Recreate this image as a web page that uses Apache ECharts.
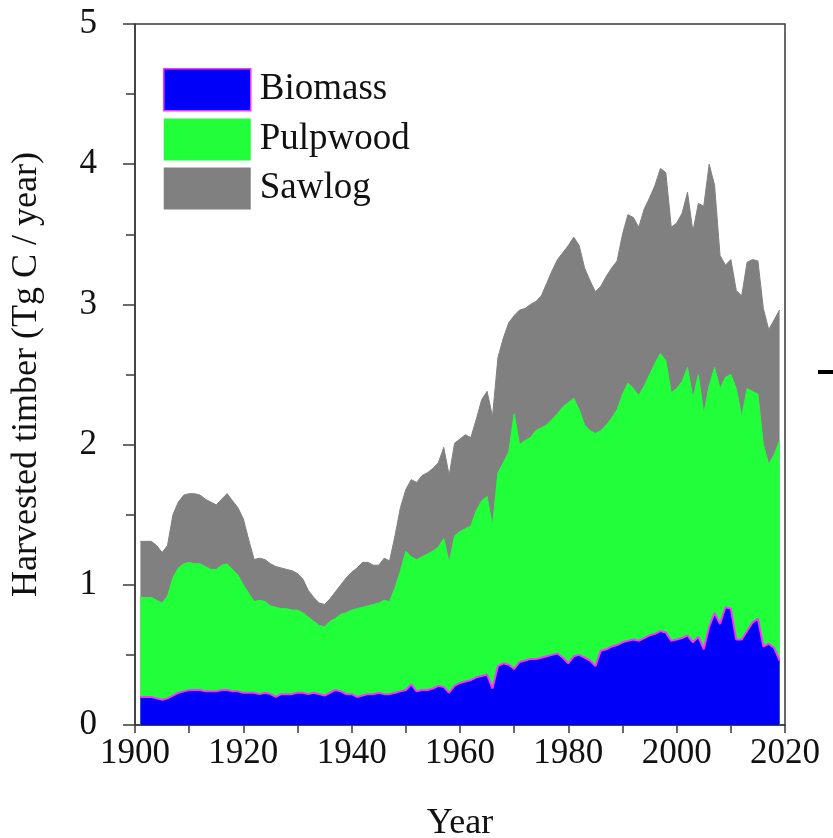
<!DOCTYPE html>
<html>
<head>
<meta charset="utf-8">
<script src="https://cdn.jsdelivr.net/npm/echarts@6/dist/echarts.min.js"></script>
<style>
  html, body { margin: 0; padding: 0; background: #ffffff; }
  #chart { width: 833px; height: 838px; }
</style>
</head>
<body>
<div id="chart"></div>
<script>
// Annual harvested timber carbon by product class, 1901-2019 (Tg C / year)
const firstYear = 1901;

const biomass = [
  0.20, 0.20, 0.20, 0.19, 0.18, 0.19, 0.21, 0.23, 0.24, 0.25,
  0.25, 0.25, 0.24, 0.24, 0.24, 0.25, 0.25, 0.24, 0.24, 0.23,
  0.23, 0.23, 0.22, 0.23, 0.22, 0.20, 0.22, 0.22, 0.22, 0.23,
  0.23, 0.22, 0.23, 0.22, 0.21, 0.23, 0.25, 0.24, 0.22, 0.22,
  0.20, 0.21, 0.22, 0.22, 0.23, 0.22, 0.22, 0.23, 0.24, 0.25,
  0.29, 0.24, 0.25, 0.25, 0.26, 0.28, 0.27, 0.23, 0.28, 0.30,
  0.31, 0.32, 0.34, 0.35, 0.36, 0.26, 0.42, 0.44, 0.43, 0.40,
  0.45, 0.46, 0.47, 0.47, 0.48, 0.49, 0.50, 0.51, 0.48, 0.44,
  0.49, 0.50, 0.48, 0.46, 0.42, 0.53, 0.54, 0.56, 0.57, 0.59,
  0.60, 0.61, 0.60, 0.62, 0.64, 0.65, 0.67, 0.66, 0.60, 0.61,
  0.62, 0.64, 0.59, 0.63, 0.54, 0.70, 0.80, 0.72, 0.84, 0.83,
  0.61, 0.61, 0.67, 0.73, 0.76, 0.56, 0.58, 0.55, 0.46
];

const pulpwood = [
  0.71, 0.71, 0.71, 0.70, 0.69, 0.73, 0.84, 0.89, 0.91, 0.91,
  0.90, 0.90, 0.89, 0.87, 0.87, 0.89, 0.90, 0.87, 0.83, 0.77,
  0.71, 0.65, 0.67, 0.65, 0.63, 0.64, 0.61, 0.61, 0.60, 0.59,
  0.57, 0.55, 0.51, 0.49, 0.49, 0.51, 0.51, 0.55, 0.58, 0.60,
  0.63, 0.63, 0.63, 0.64, 0.64, 0.67, 0.66, 0.75, 0.86, 0.99,
  0.91, 0.94, 0.95, 0.97, 0.98, 0.99, 1.06, 0.93, 1.07, 1.08,
  1.09, 1.10, 1.19, 1.25, 1.27, 1.16, 1.38, 1.43, 1.52, 1.82,
  1.55, 1.57, 1.58, 1.63, 1.64, 1.65, 1.68, 1.71, 1.79, 1.86,
  1.84, 1.75, 1.66, 1.64, 1.66, 1.57, 1.60, 1.63, 1.68, 1.77,
  1.84, 1.79, 1.75, 1.80, 1.86, 1.93, 1.98, 1.94, 1.77, 1.79,
  1.83, 1.91, 1.74, 1.87, 1.68, 1.72, 1.75, 1.68, 1.64, 1.67,
  1.79, 1.59, 1.73, 1.65, 1.60, 1.44, 1.28, 1.38, 1.57
];

const sawlog = [
  0.40, 0.40, 0.40, 0.39, 0.36, 0.36, 0.45, 0.47, 0.49, 0.49,
  0.50, 0.49, 0.48, 0.48, 0.46, 0.47, 0.50, 0.49, 0.48, 0.47,
  0.38, 0.30, 0.30, 0.30, 0.30, 0.29, 0.29, 0.28, 0.28, 0.26,
  0.24, 0.19, 0.17, 0.16, 0.16, 0.16, 0.19, 0.21, 0.25, 0.27,
  0.29, 0.32, 0.31, 0.28, 0.27, 0.30, 0.29, 0.37, 0.45, 0.44,
  0.55, 0.55, 0.58, 0.58, 0.59, 0.60, 0.65, 0.62, 0.66, 0.66,
  0.67, 0.63, 0.65, 0.72, 0.75, 0.78, 0.82, 0.89, 0.92, 0.70,
  0.96, 0.94, 0.95, 0.92, 0.94, 1.01, 1.06, 1.10, 1.10, 1.12,
  1.15, 1.17, 1.12, 1.07, 1.01, 1.03, 1.06, 1.07, 1.06, 1.14,
  1.20, 1.22, 1.20, 1.26, 1.26, 1.27, 1.32, 1.34, 1.18, 1.18,
  1.20, 1.25, 1.19, 1.22, 1.48, 1.58, 1.30, 0.95, 0.80, 0.82,
  0.70, 0.86, 0.90, 0.94, 0.95, 0.97, 0.96, 0.96, 0.93
];

const seriesNames = ['Biomass', 'Pulpwood', 'Sawlog'];
const fillColors = ['#0000fa', '#20ff3a', '#808080'];
const biomassEdge = '#ff33ff';

const xTicks = { min: 1900, max: 2020, step: 20 };
const yTicks = { min: 0, max: 5, step: 1 };

const years = biomass.map((_, i) => firstYear + i);

// Layer tops: each product class sits on the ones below it.
const layers = [biomass, pulpwood, sawlog];
const layerTops = layers.map((_, k) =>
  years.map((y, i) => {
    let s = 0;
    for (let j = 0; j <= k; j++) s += layers[j][i];
    return [y, Math.round(s * 1000) / 1000];
  })
);

const serif = '"Liberation Serif", "DejaVu Serif", serif';
const axisColor = '#3a3a3a';

const chart = echarts.init(document.getElementById('chart'), null, { renderer: 'canvas' });

const makeSeries = (k, edge) => ({
  name: seriesNames[k],
  type: 'line',
  data: layerTops[k],
  z: 10 - k,
  showSymbol: false,
  symbol: 'none',
  smooth: false,
  itemStyle: { color: fillColors[k] },
  lineStyle: edge ? { color: edge, width: 2 } : { color: fillColors[k], width: 1 },
  areaStyle: { color: fillColors[k], opacity: 1 },
  emphasis: { disabled: true }
});

chart.setOption({
  backgroundColor: '#ffffff',
  animation: false,
  grid: {
    left: 135, right: 48, top: 24, bottom: 113,
    outerBoundsMode: 'none',
    containLabel: false,
    show: true, borderColor: axisColor, borderWidth: 1.5,
    backgroundColor: 'transparent'
  },
  legend: {
    orient: 'vertical',
    left: 158, top: 63,
    itemWidth: 87, itemHeight: 42, itemGap: 7,
    icon: 'rect',
    textStyle: { fontFamily: serif, fontSize: 37, color: '#111', padding: [0, 0, 0, 4] },
    data: [
      { name: seriesNames[0], itemStyle: { color: fillColors[0], borderColor: biomassEdge, borderWidth: 1.5 } },
      { name: seriesNames[1], itemStyle: { color: fillColors[1], borderWidth: 0 } },
      { name: seriesNames[2], itemStyle: { color: fillColors[2], borderWidth: 0 } }
    ],
    selectedMode: false
  },
  xAxis: {
    type: 'value',
    min: xTicks.min, max: xTicks.max, interval: xTicks.step,
    name: 'Year', nameLocation: 'middle', nameGap: 81,
    nameTextStyle: { fontFamily: serif, fontSize: 36, color: '#111' },
    axisLine: { show: true, lineStyle: { color: axisColor, width: 1.5 } },
    axisTick: { show: true, inside: false, length: 8, lineStyle: { color: axisColor, width: 1.5 } },
    minorTick: { show: true, splitNumber: 2, length: 8, lineStyle: { color: axisColor, width: 1.5 } },
    splitLine: { show: false },
    axisLabel: { fontFamily: serif, fontSize: 35, color: '#111', margin: 11, formatter: v => String(v) }
  },
  yAxis: {
    type: 'value',
    min: yTicks.min, max: yTicks.max, interval: yTicks.step,
    name: 'Harvested timber (Tg C / year)', nameLocation: 'middle', nameGap: 90,
    nameTextStyle: { fontFamily: serif, fontSize: 36, color: '#111' },
    axisLine: { show: true, lineStyle: { color: axisColor, width: 1.5 } },
    axisTick: { show: true, inside: false, length: 12, lineStyle: { color: axisColor, width: 1.5 } },
    minorTick: { show: true, splitNumber: 2, length: 9, lineStyle: { color: axisColor, width: 1.5 } },
    splitLine: { show: false },
    axisLabel: { fontFamily: serif, fontSize: 35, color: '#111', margin: 38 }
  },
  graphic: [
    { type: 'rect', left: 818, top: 370, shape: { width: 15, height: 4 }, style: { fill: '#000' }, silent: true }
  ],
  series: [
    makeSeries(0, biomassEdge),
    makeSeries(1, null),
    makeSeries(2, null)
  ]
});
</script>
</body>
</html>
